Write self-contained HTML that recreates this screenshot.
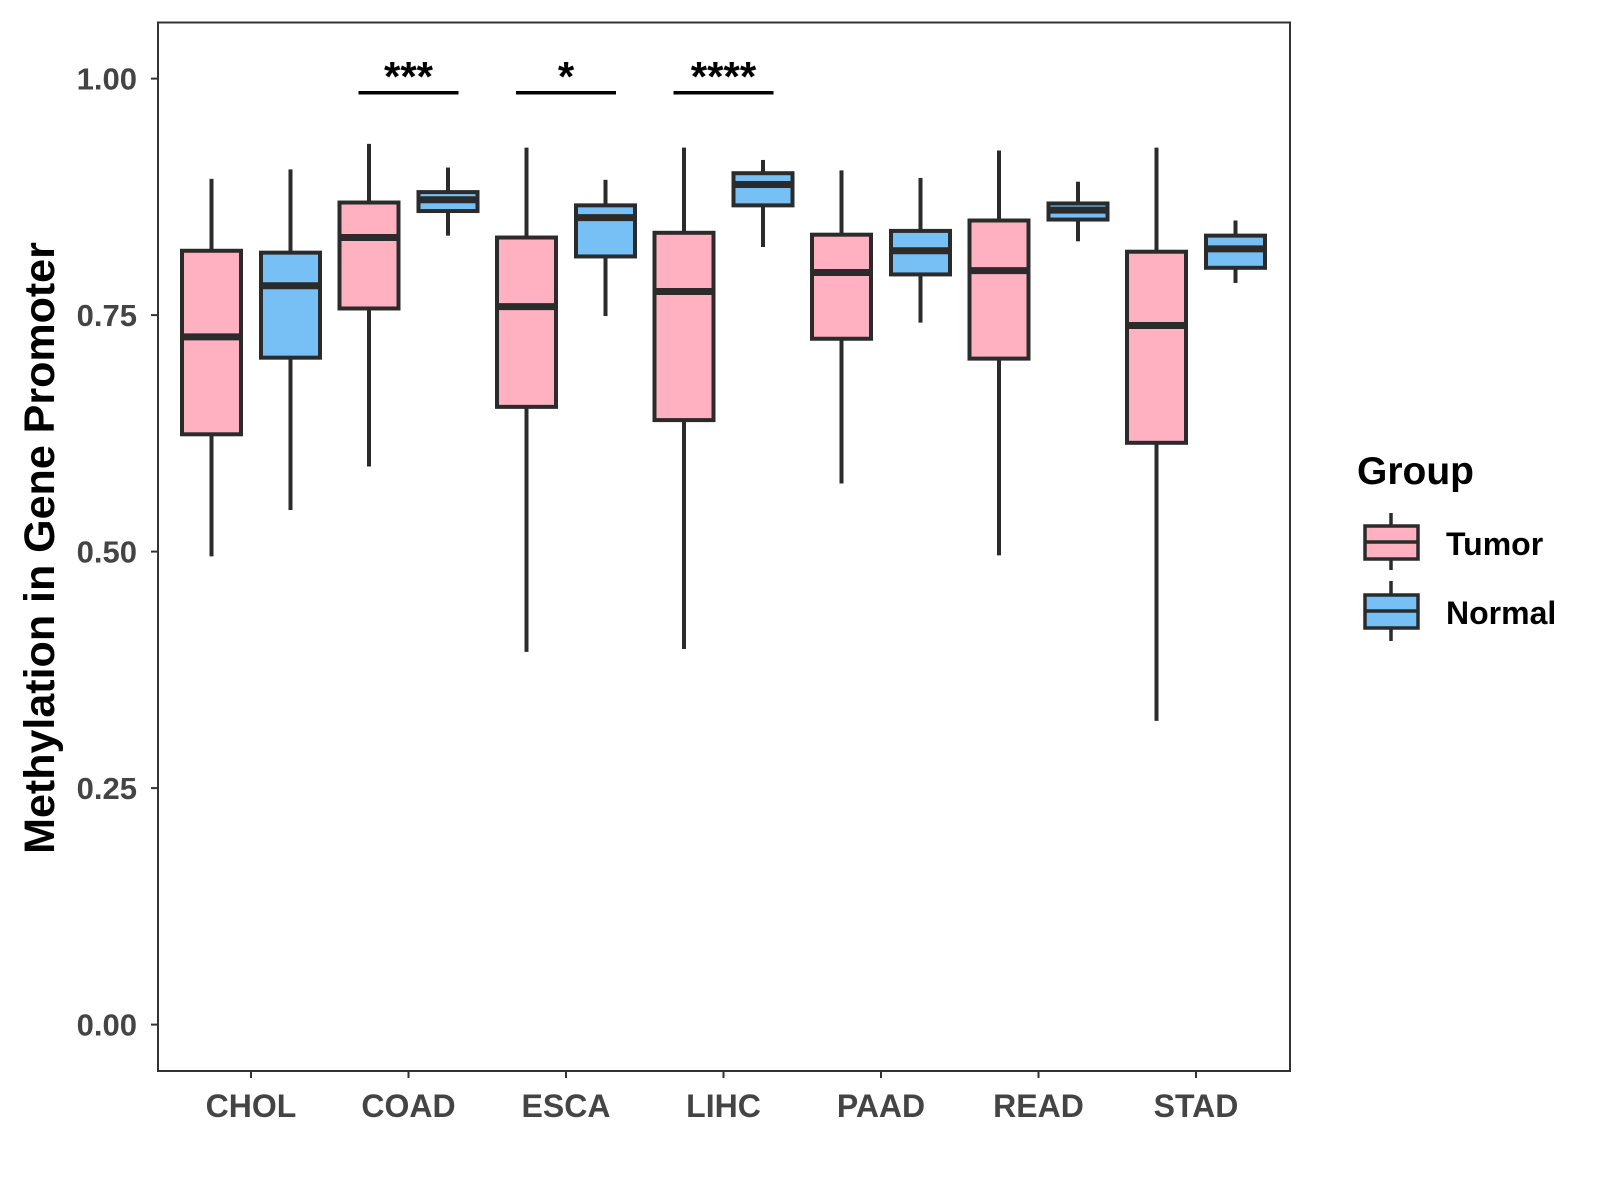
<!DOCTYPE html>
<html><head><meta charset="utf-8"><style>
html,body{margin:0;padding:0;background:#fff;}
svg{display:block;font-family:"Liberation Sans",Arial,sans-serif;}
</style></head><body>
<svg id="chart" width="1600" height="1200" viewBox="0 0 1600 1200">
<rect x="0" y="0" width="1600" height="1200" fill="#fff"/>
<g id="marks"></g>
<rect x="158" y="22.5" width="1132" height="1048.5" fill="none" stroke="#333" stroke-width="2"/>
<g id="axes"></g>
<text transform="translate(54,548) rotate(-90)" text-anchor="middle" font-size="43" font-weight="bold" fill="#000">Methylation in Gene Promoter</text>
<g>
<text x="1357" y="484" font-size="39" font-weight="bold" fill="#000">Group</text>
<g>
<line x1="1391" y1="513" x2="1391" y2="570" stroke="#2b2b2b" stroke-width="3.5"/>
<rect x="1365" y="526" width="53" height="33" fill="#FFB0C1" stroke="#2b2b2b" stroke-width="3.5"/>
<line x1="1365" y1="542" x2="1418" y2="542" stroke="#2b2b2b" stroke-width="3.5"/>
<text x="1446" y="555" font-size="32" font-weight="bold" fill="#000">Tumor</text>
</g>
<g>
<line x1="1391" y1="581" x2="1391" y2="641" stroke="#2b2b2b" stroke-width="3.5"/>
<rect x="1365" y="595" width="53" height="33" fill="#77C0F5" stroke="#2b2b2b" stroke-width="3.5"/>
<line x1="1365" y1="611" x2="1418" y2="611" stroke="#2b2b2b" stroke-width="3.5"/>
<text x="1446" y="624" font-size="32" font-weight="bold" fill="#000">Normal</text>
</g>
</g>
</svg>
<script>
const categories = ["CHOL","COAD","ESCA","LIHC","PAAD","READ","STAD"];
// [low, q1, median, q3, high]
const tumorStats = [
  [0.495,0.624,0.727,0.818,0.894],
  [0.590,0.757,0.832,0.869,0.931],
  [0.394,0.653,0.759,0.832,0.927],
  [0.397,0.639,0.775,0.837,0.927],
  [0.572,0.725,0.795,0.835,0.903],
  [0.496,0.704,0.797,0.850,0.924],
  [0.321,0.615,0.739,0.817,0.927]
];
const normalStats = [
  [0.544,0.705,0.781,0.816,0.904],
  [0.834,0.860,0.872,0.880,0.906],
  [0.749,0.812,0.853,0.866,0.893],
  [0.822,0.866,0.888,0.900,0.914],
  [0.742,0.793,0.818,0.839,0.895],
  [0.828,0.851,0.861,0.868,0.891],
  [0.784,0.800,0.820,0.834,0.850]
];
const yTicks = [0, 0.25, 0.5, 0.75, 1.0];
const yTickLabels = ["0.00","0.25","0.50","0.75","1.00"];
const sigCategories = ["COAD","ESCA","LIHC"];
const sigLabels = ["***","*","****"];
const sigLevel = 0.985;

const NS = "http://www.w3.org/2000/svg";
const yScale = v => 1024.6 - v * 946;
const xScale = i => 251 + i * 157.5;
const marks = document.getElementById("marks");
const axes = document.getElementById("axes");
function mk(tag, attrs, parent){
  const e = document.createElementNS(NS, tag);
  for (const k in attrs) e.setAttribute(k, attrs[k]);
  parent.appendChild(e);
  return e;
}
function drawBox(stats, cx, fill, name){
  const g = mk("g", {}, marks);
  
  
  const [lo,q1,md,q3,hi] = stats;
  const w = 59, c = "#2b2b2b";
  mk("line", {x1:cx,x2:cx,y1:yScale(hi),y2:yScale(q3),stroke:c,"stroke-width":4}, g);
  mk("line", {x1:cx,x2:cx,y1:yScale(q1),y2:yScale(lo),stroke:c,"stroke-width":4}, g);
  mk("rect", {x:cx-w/2,y:yScale(q3),width:w,height:yScale(q1)-yScale(q3),fill:fill,stroke:c,"stroke-width":4}, g);
  mk("line", {x1:cx-w/2,x2:cx+w/2,y1:yScale(md),y2:yScale(md),stroke:c,"stroke-width":7}, g);
}
categories.forEach((cat, i) => {
  const cx = xScale(i);
  drawBox(tumorStats[i], cx - 39.5, "#FFB0C1", "box-tumor-" + cat.toLowerCase());
  drawBox(normalStats[i], cx + 39.5, "#77C0F5", "box-normal-" + cat.toLowerCase());
  const t = mk("line", {x1:cx,x2:cx,y1:1071,y2:1078,stroke:"#333","stroke-width":2}, axes);
  
  
  const lab = mk("text", {x:cx,y:1117,"text-anchor":"middle","font-size":32,"font-weight":"bold",fill:"#444"}, axes);
  lab.textContent = cat;
  
  
});
yTicks.forEach((v, i) => {
  const y = yScale(v);
  const t = mk("line", {x1:151,x2:158,y1:y,y2:y,stroke:"#333","stroke-width":2}, axes);
  
  
  const lab = mk("text", {x:137,y:y+11,"text-anchor":"end","font-size":31,"font-weight":"bold",fill:"#444"}, axes);
  lab.textContent = yTickLabels[i];
  
  
});
sigCategories.forEach((cat, j) => {
  const cx = xScale(categories.indexOf(cat));
  const y = yScale(sigLevel);
  const l = mk("line", {x1:cx-50,x2:cx+50,y1:y,y2:y,stroke:"#000","stroke-width":3.5}, marks);
  
  
  const s = mk("text", {x:cx,y:y-2,"text-anchor":"middle","font-size":42,"font-weight":"bold",fill:"#000"}, marks);
  s.textContent = sigLabels[j];
  
  
});
</script>
</body></html>
